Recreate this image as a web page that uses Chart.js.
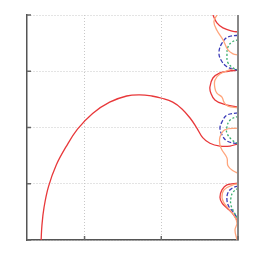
<!DOCTYPE html>
<html>
<head>
<meta charset="utf-8">
<script src="https://cdn.jsdelivr.net/npm/chart.js@4.4.0/dist/chart.umd.min.js"></script>
<style>
  html, body { margin: 0; padding: 0; background: #fff; }
  #wrap { width: 256px; height: 256px; }
</style>
</head>
<body>
<div id="wrap"><canvas id="myChart"></canvas></div>
<script>
// curve points, [x, y]
const redMain = [[-0.566,0],[-0.556,0.25],[-0.528,0.58],[-0.470,0.95],[-0.370,1.33],[-0.240,1.66],[-0.092,1.97],[0.105,2.25],[0.327,2.45],[0.549,2.56],[0.719,2.58],[0.876,2.56],[1.007,2.52],[1.150,2.45],[1.270,2.33],[1.380,2.16],[1.464,1.99],[1.540,1.82],[1.634,1.72],[1.765,1.67],[1.895,1.67],[2.0,1.71]]
const redTop = [[1.673,4.0],[1.725,3.86],[1.804,3.77],[1.935,3.71],[2.0,3.70]]
const redMid = [[2.0,3.02],[1.869,3.0],[1.765,2.97],[1.673,2.88],[1.634,2.72],[1.647,2.61],[1.699,2.49],[1.804,2.42],[2.0,2.36]]
const redLow = [[2.0,1.01],[1.856,0.98],[1.791,0.89],[1.765,0.76],[1.791,0.66],[1.856,0.57],[1.935,0.46],[2.0,0.32]]

const orangeTop = [[1.725,4.0],[1.686,3.88],[1.725,3.73],[1.804,3.56],[1.869,3.38],[1.935,3.31],[2.0,3.29]]
const orangeMid = [[1.922,3.04],[1.765,2.95],[1.699,2.84],[1.699,2.70],[1.725,2.61],[1.791,2.54],[1.817,2.45],[1.869,2.38],[2.0,2.35]]
const orangeMid2 = [[2.0,1.99],[1.830,1.96],[1.765,1.83],[1.765,1.69],[1.791,1.60],[1.856,1.46],[1.869,1.32],[1.935,1.23],[2.0,1.19]]
const orangeLow = [[2.0,1.0],[1.935,0.98],[1.817,0.89],[1.791,0.76],[1.817,0.66],[1.869,0.57],[1.948,0.44],[1.987,0.30],[1.961,0.18],[1.987,0]]

const blueTop = [[2.0,3.64],[1.869,3.61],[1.791,3.50],[1.752,3.34],[1.778,3.20],[1.856,3.08],[1.935,3.04],[2.0,3.02]]
const blueMid = [[2.0,2.26],[1.856,2.22],[1.791,2.10],[1.765,1.99],[1.791,1.87],[1.856,1.76],[2.0,1.71]]
const blueLow = [[2.0,0.96],[1.922,0.92],[1.869,0.84],[1.856,0.71],[1.882,0.59],[1.935,0.50],[2.0,0.37]]

const greenTop = [[2.0,3.56],[1.922,3.52],[1.869,3.43],[1.856,3.29],[1.869,3.15],[1.935,3.06],[2.0,3.02]]
const greenMid = [[2.0,2.20],[1.895,2.13],[1.856,2.01],[1.856,1.90],[1.922,1.78],[2.0,1.71]]
const greenLow = [[2.0,0.92],[1.935,0.85],[1.908,0.75],[1.908,0.62],[1.948,0.50],[2.0,0.37]]

const xTicks = [0, 1, 2]
const yTicks = [0, 1, 2, 3, 4]

const red = '#e8383a'
const orange = '#ffa57c'
const blue = '#3b3bb8'
const green = '#3aae6e'

function pts(arr) {
  return arr.map(p => ({x: p[0], y: p[1]}))
}
function line(arr, color, width, dash) {
  return {
    data: pts(arr),
    showLine: true,
    borderColor: color,
    borderWidth: width,
    borderDash: dash,
    pointRadius: 0,
    tension: 0.4,
    fill: false
  }
}

const datasets = [
  line(orangeTop, orange, 1.3, []),
  line(orangeMid, orange, 1.3, []),
  line(orangeMid2, orange, 1.3, []),
  line(orangeLow, orange, 1.3, []),
  line(greenTop, green, 1.3, [2, 2]),
  line(greenMid, green, 1.3, [2, 2]),
  line(greenLow, green, 1.3, [2, 2]),
  line(blueTop, blue, 1.3, [4, 2]),
  line(blueMid, blue, 1.3, [4, 2]),
  line(blueLow, blue, 1.3, [4, 2]),
  line(redMain, red, 1.3, []),
  line(redTop, red, 1.3, []),
  line(redMid, red, 1.3, []),
  line(redLow, red, 1.3, [])
]

// short tick marks pointing inside, and the grey right edge
const innerTicks = {
  id: 'innerTicks',
  afterDraw(chart) {
    const c = chart.ctx
    const xs = chart.scales.x, ys = chart.scales.y
    const a = chart.chartArea
    c.save()
    c.strokeStyle = '#888'
    c.lineWidth = 2
    c.beginPath()
    c.moveTo(a.right, a.top)
    c.lineTo(a.right, a.bottom)
    c.stroke()
    c.strokeStyle = '#666'
    c.lineWidth = 1.5
    for (const v of xTicks) {
      const px = xs.getPixelForValue(v)
      c.beginPath(); c.moveTo(px, a.bottom); c.lineTo(px, a.bottom - 4); c.stroke()
    }
    for (const v of yTicks) {
      const py = ys.getPixelForValue(v)
      c.beginPath(); c.moveTo(a.left, py); c.lineTo(a.left + 4, py); c.stroke()
    }
    c.restore()
  }
}

new Chart(document.getElementById('myChart'), {
  type: 'scatter',
  data: { datasets: datasets },
  options: {
    responsive: true,
    maintainAspectRatio: false,
    animation: false,
    layout: { padding: { left: 27, right: 18, top: 15, bottom: 16 } },
    plugins: { legend: { display: false }, tooltip: { enabled: false } },
    scales: {
      x: {
        type: 'linear',
        min: -0.75,
        max: 2,
        afterBuildTicks: s => { s.ticks = xTicks.map(v => ({value: v})) },
        ticks: { display: false },
        grid: { color: '#c8c8c8', lineWidth: 1, drawTicks: false },
        border: { display: true, color: '#555', width: 1.5, dash: [1, 2] }
      },
      y: {
        type: 'linear',
        min: 0,
        max: 4,
        afterBuildTicks: s => { s.ticks = yTicks.map(v => ({value: v})) },
        ticks: { display: false },
        grid: { color: '#c8c8c8', lineWidth: 1, drawTicks: false },
        border: { display: true, color: '#555', width: 1.5, dash: [1, 2] }
      }
    }
  },
  plugins: [innerTicks]
});
</script>
</body>
</html>
